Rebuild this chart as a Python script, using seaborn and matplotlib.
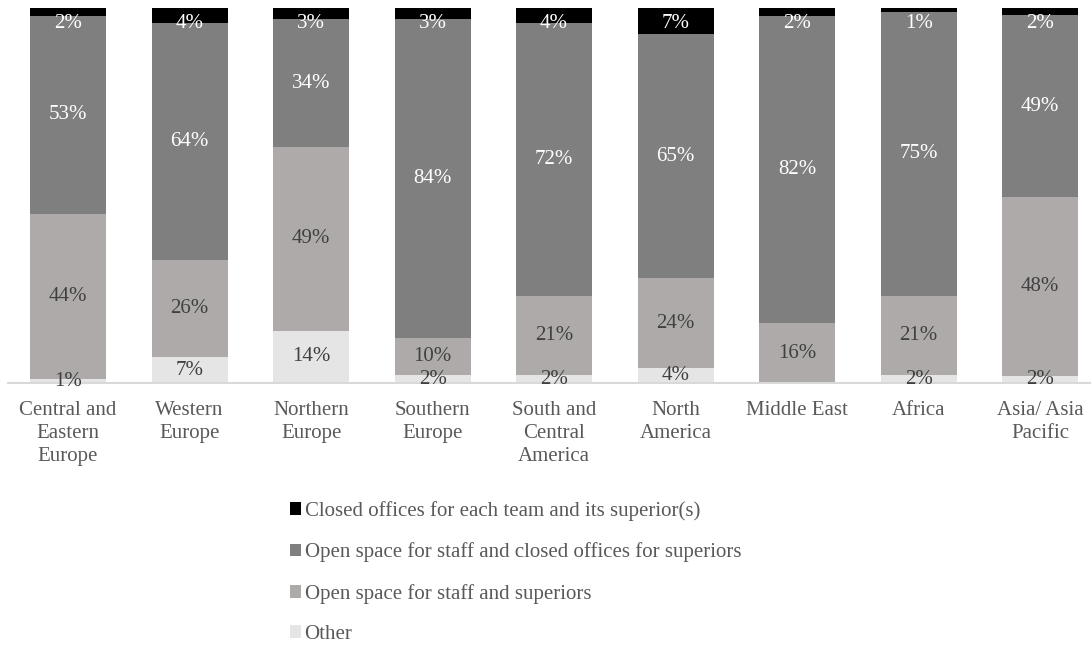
import matplotlib
matplotlib.use("Agg")
import matplotlib.pyplot as plt
import seaborn as sns
import numpy as np
import pandas as pd
from matplotlib.patches import Patch

categories = ["Central and\nEastern\nEurope", "Western\nEurope", "Northern\nEurope",
              "Southern\nEurope", "South and\nCentral\nAmerica", "North\nAmerica",
              "Middle East", "Africa", "Asia/ Asia\nPacific"]
other = [1, 7, 14, 2, 2, 4, 0, 2, 2]
open_all = [44, 26, 49, 10, 21, 24, 16, 21, 48]
open_closed = [53, 64, 34, 84, 72, 65, 82, 75, 49]
closed = [2, 4, 3, 3, 4, 7, 2, 1, 2]

series_names = ["Other", "Open space for staff and superiors",
                "Open space for staff and closed offices for superiors",
                "Closed offices for each team and its superior(s)"]
series_vals = [other, open_all, open_closed, closed]
colors = ["#e5e5e5", "#aeaaaa", "#7f7f7f", "#000000"]
label_colors = ["#404040", "#404040", "#ffffff", "#ffffff"]

sns.set_style("white")
plt.rcParams["font.family"] = ["Liberation Serif", "DejaVu Sans"]
FS = 15

vals = np.array(series_vals, dtype=float)
totals = vals.sum(axis=0)
pct = vals / totals * 100
cum = np.cumsum(pct, axis=0)

fig = plt.figure(figsize=(10.91, 6.46), dpi=100)
ax = fig.add_axes([8 / 1091, 1 - 383 / 646, 1082 / 1091, 375 / 646])

order = list(range(len(categories)))
# draw cumulative heights from top to bottom (overdraw)
for i in reversed(range(len(series_names))):
    df = pd.DataFrame({"cat": order, "val": cum[i]})
    sns.barplot(data=df, x="cat", y="val", color=colors[i], width=0.625,
                saturation=1, ax=ax, order=order, linewidth=0)

for i in range(len(series_names)):
    for j in range(len(categories)):
        v = series_vals[i][j]
        if v == 0:
            continue
        c = cum[i][j] - pct[i][j] / 2
        c = min(c, 96.0)
        ax.text(j, c, f"{v}%", ha="center", va="center", fontsize=FS,
                color=label_colors[i])

ax.set_ylim(0, 100)
ax.set_xlim(-0.494, 8.41)
ax.set_yticks([])
ax.set_xticks(order)
ax.set_xticklabels(categories, fontsize=FS, color="#595959", linespacing=1.3)
ax.tick_params(axis="x", length=0, pad=13)
ax.set_xlabel("")
ax.set_ylabel("")
for s in ["top", "right", "left"]:
    ax.spines[s].set_visible(False)
ax.spines["bottom"].set_color("#d9d9d9")
ax.spines["bottom"].set_linewidth(1.5)

handles = [Patch(facecolor=colors[i], edgecolor="none") for i in reversed(range(4))]
labels = [series_names[i] for i in reversed(range(4))]
fig.legend(handles, labels, loc="upper left",
           bbox_to_anchor=(290 / 1091, 1 - 501 / 646), frameon=False,
           fontsize=FS, labelcolor="#595959", handlelength=0.55, handleheight=0.55,
           handletextpad=0.15, labelspacing=1.03, borderpad=0, borderaxespad=0)

fig.savefig("out.png", dpi=100)
